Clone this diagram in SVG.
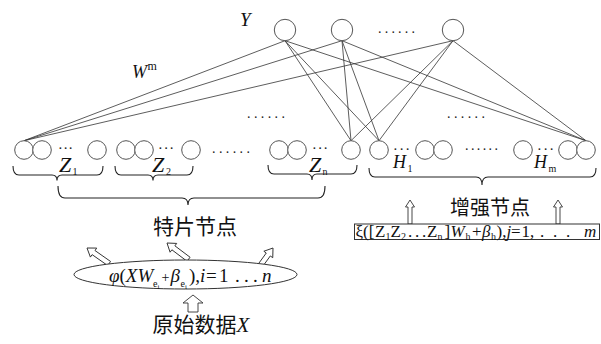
<svg xmlns="http://www.w3.org/2000/svg" width="601" height="344" viewBox="0 0 601 344">
<style>
.n{fill:#fff;stroke:#555;stroke-width:1}
#connectors line{stroke:#333;stroke-width:0.8}
.br{fill:none;stroke:#222;stroke-width:1.1}
.t{font-family:"Liberation Serif","Times New Roman",serif;fill:#111}
.i{font-style:italic}
.cn{font-family:"Noto Sans CJK SC",sans-serif;fill:#111}
.ar{fill:#fff;stroke:#333;stroke-width:0.9}
.d{font-family:"Liberation Serif","Times New Roman",serif;font-size:14px;fill:#222}
.ds{font-family:"Liberation Serif","Times New Roman",serif;font-size:11px;font-weight:bold;fill:#222}
</style>
<rect width="601" height="344" fill="#fff"/>

<g id="connectors">
  <line x1="285" y1="40.7" x2="24" y2="140.7"/>
  <line x1="342" y1="40.7" x2="24" y2="140.7"/>
  <line x1="453" y1="40.7" x2="24" y2="140.7"/>
  <line x1="285" y1="40.7" x2="351" y2="140.7"/>
  <line x1="342" y1="40.7" x2="351" y2="140.7"/>
  <line x1="453" y1="40.7" x2="351" y2="140.7"/>
  <line x1="285" y1="40.7" x2="379" y2="140.7"/>
  <line x1="342" y1="40.7" x2="379" y2="140.7"/>
  <line x1="453" y1="40.7" x2="379" y2="140.7"/>
  <line x1="285" y1="40.7" x2="586" y2="140.7"/>
  <line x1="342" y1="40.7" x2="586" y2="140.7"/>
  <line x1="453" y1="40.7" x2="586" y2="140.7"/>
</g>

<g id="output-layer">
  <text class="t i" x="240" y="26" font-size="19">Y</text>
  <g id="y1"><circle class="n" cx="285" cy="30" r="10.7"/></g>
  <g id="y2"><circle class="n" cx="342" cy="30" r="10.7"/></g>
  <text class="d" x="378" y="33" textLength="37" lengthAdjust="spacing">......</text>
  <g id="y3"><circle class="n" cx="453" cy="30" r="10.7"/></g>
  <text class="t" y="78" font-size="18"><tspan x="132" class="i">W</tspan><tspan x="147.5" y="70" font-size="12">m</tspan></text>
</g>

<text class="d" x="247" y="118" textLength="38" lengthAdjust="spacing">......</text>
<text class="d" x="447" y="118" textLength="38" lengthAdjust="spacing">......</text>

<g id="group-Z1">
  <g id="z1-a"><circle class="n" cx="24" cy="150" r="9.3"/></g>
  <g id="z1-b"><circle class="n" cx="42" cy="150" r="9.3"/></g>
  <text class="ds" x="59" y="149" textLength="13" lengthAdjust="spacing">...</text>
  <g id="z1-c"><circle class="n" cx="97" cy="150" r="9.3"/></g>
  <text class="t" y="171.5" font-size="22"><tspan x="59" class="i">Z</tspan><tspan x="72.5" y="174.5" font-size="10">1</tspan></text>
  <path class="br" d="M13,166 Q13,175 19,175 L52,175 Q57,175 57,180.5 Q57,175 62,175 L97,175 Q103,175 103,166"/>
</g>

<g id="group-Z2">
  <g id="z2-a"><circle class="n" cx="126" cy="150" r="9.3"/></g>
  <g id="z2-b"><circle class="n" cx="144" cy="150" r="9.3"/></g>
  <text class="ds" x="159" y="149" textLength="14" lengthAdjust="spacing">...</text>
  <g id="z2-c"><circle class="n" cx="191" cy="150" r="9.3"/></g>
  <text class="t" y="171.5" font-size="22"><tspan x="152" class="i">Z</tspan><tspan x="166" y="174.5" font-size="10">2</tspan></text>
  <path class="br" d="M115,166 Q115,175 121,175 L148,175 Q153,175 153,180.5 Q153,175 158,175 L187,175 Q193,175 193,166"/>
</g>

<text class="d" x="212" y="153" textLength="38" lengthAdjust="spacing">......</text>

<g id="group-Zn">
  <g id="zn-a"><circle class="n" cx="279" cy="150" r="9.3"/></g>
  <g id="zn-b"><circle class="n" cx="297" cy="150" r="9.3"/></g>
  <text class="ds" x="313" y="149" textLength="14" lengthAdjust="spacing">...</text>
  <g id="zn-c"><circle class="n" cx="351" cy="150" r="9.3"/></g>
  <text class="t" y="171.5" font-size="22"><tspan x="309" class="i">Z</tspan><tspan x="322.5" y="174.5" font-size="10">n</tspan></text>
  <path class="br" d="M268,165 Q268,174 274,174 L307,174 Q312,174 312,180 Q312,174 317,174 L351,174 Q357,174 357,165"/>
</g>

<g id="group-H1">
  <g id="h1-a"><circle class="n" cx="379" cy="150" r="9.3"/></g>
  <text class="ds" x="394" y="150" textLength="15" lengthAdjust="spacing">...</text>
  <g id="h1-b"><circle class="n" cx="425" cy="150" r="9.3"/></g>
  <g id="h1-c"><circle class="n" cx="443" cy="150" r="9.3"/></g>
  <text class="t" y="168" font-size="18"><tspan x="393" class="i">H</tspan><tspan x="407.5" y="171.5" font-size="10">1</tspan></text>
</g>

<text class="d" x="465" y="150" textLength="33" lengthAdjust="spacing">......</text>

<g id="group-Hm">
  <g id="hm-a"><circle class="n" cx="523" cy="150" r="9.3"/></g>
  <text class="ds" x="538" y="150" textLength="15" lengthAdjust="spacing">...</text>
  <g id="hm-b"><circle class="n" cx="568" cy="150" r="9.3"/></g>
  <g id="hm-c"><circle class="n" cx="586" cy="150" r="9.3"/></g>
  <text class="t" y="168" font-size="18"><tspan x="534" class="i">H</tspan><tspan x="548.5" y="171.5" font-size="10">m</tspan></text>
</g>

<path class="br" d="M369,168 Q369,177 375,177 L476,177 Q482,177 482,185 Q482,177 488,177 L590,177 Q596,177 596,168"/>
<path class="br" d="M58,186 Q58,198 65,198 L182,198 Q188,198 188,205 Q188,198 194,198 L318,198 Q325,198 325,186"/>

<g id="feature-label"><text class="cn" x="195" y="234" font-size="21" text-anchor="middle">特片节点</text></g>
<g id="enhance-label"><text class="cn" x="490" y="215" font-size="20" text-anchor="middle">增强节点</text></g>

<g id="feature-mapping">
  <path class="ar" transform="translate(87,248) rotate(-55)" d="M0,0 L5.5,8 L2.5,8 L2.5,27 L-2.5,27 L-2.5,8 L-5.5,8 Z"/>
  <path class="ar" transform="translate(167,243) rotate(-53)" d="M0,0 L5.5,8 L2.5,8 L2.5,27 L-2.5,27 L-2.5,8 L-5.5,8 Z"/>
  <path class="ar" transform="translate(273,248) rotate(36)" d="M0,0 L5.5,8 L2.5,8 L2.5,24 L-2.5,24 L-2.5,8 L-5.5,8 Z"/>
  <ellipse cx="185.5" cy="274.5" rx="111.5" ry="14.5" fill="#fff" stroke="#333" stroke-width="1"/>
  <text class="t" y="282" font-size="19"><tspan x="109" class="i">φ</tspan><tspan>(</tspan><tspan class="i">XW</tspan><tspan x="153" y="287" font-size="10">e</tspan><tspan y="289" font-size="7">i</tspan><tspan x="161.5" y="282" font-size="14">+</tspan><tspan x="170.5" font-size="19" class="i">β</tspan><tspan x="180.5" y="287" font-size="10">e</tspan><tspan y="289" font-size="7">i</tspan><tspan x="189" y="282">),</tspan><tspan x="200" class="i">i</tspan><tspan x="206">=</tspan><tspan x="219">1</tspan><tspan x="235 244 253">...</tspan><tspan x="262" class="i">n</tspan></text>
</g>

<g id="input">
  <path class="ar" d="M193,295 L203,303 L198,303 L198,312 L188,312 L188,303 L183,303 Z"/>
  <text x="201" y="332" font-size="21" text-anchor="middle"><tspan class="cn">原始数据</tspan><tspan class="t i">X</tspan></text>
</g>

<g id="enhance-mapping">
  <path class="ar" transform="translate(410,200)" d="M0,0 L4.5,7 L2,7 L2,24 L-2,24 L-2,7 L-4.5,7 Z"/>
  <path class="ar" transform="translate(558,200)" d="M0,0 L4.5,7 L2,7 L2,24 L-2,24 L-2,7 L-4.5,7 Z"/>
  <rect x="354.5" y="224" width="245" height="15.5" fill="#fff" stroke="#333" stroke-width="1"/>
  <text class="t" y="236.5" font-size="17"><tspan x="355.5">ξ([</tspan><tspan x="375">Z</tspan><tspan x="385.5" y="240" font-size="10">1</tspan><tspan x="390.5" y="236.5">Z</tspan><tspan x="401" y="240" font-size="10">2</tspan><tspan x="408 415 422" y="236.5">...</tspan><tspan x="427">Z</tspan><tspan x="437.5" y="240" font-size="10">n</tspan><tspan x="444.5" y="236.5">]</tspan><tspan x="450.5" class="i">W</tspan><tspan x="465.5" y="240" font-size="10">h</tspan><tspan x="472" y="236.5">+</tspan><tspan x="482" class="i">β</tspan><tspan x="491" y="240" font-size="10">h</tspan><tspan x="496.5" y="236.5">),</tspan><tspan x="506.5" class="i">j</tspan><tspan x="511">=</tspan><tspan x="521.5">1,</tspan><tspan x="540 553 566">...</tspan><tspan x="584" class="i">m</tspan></text>
</g>
</svg>
